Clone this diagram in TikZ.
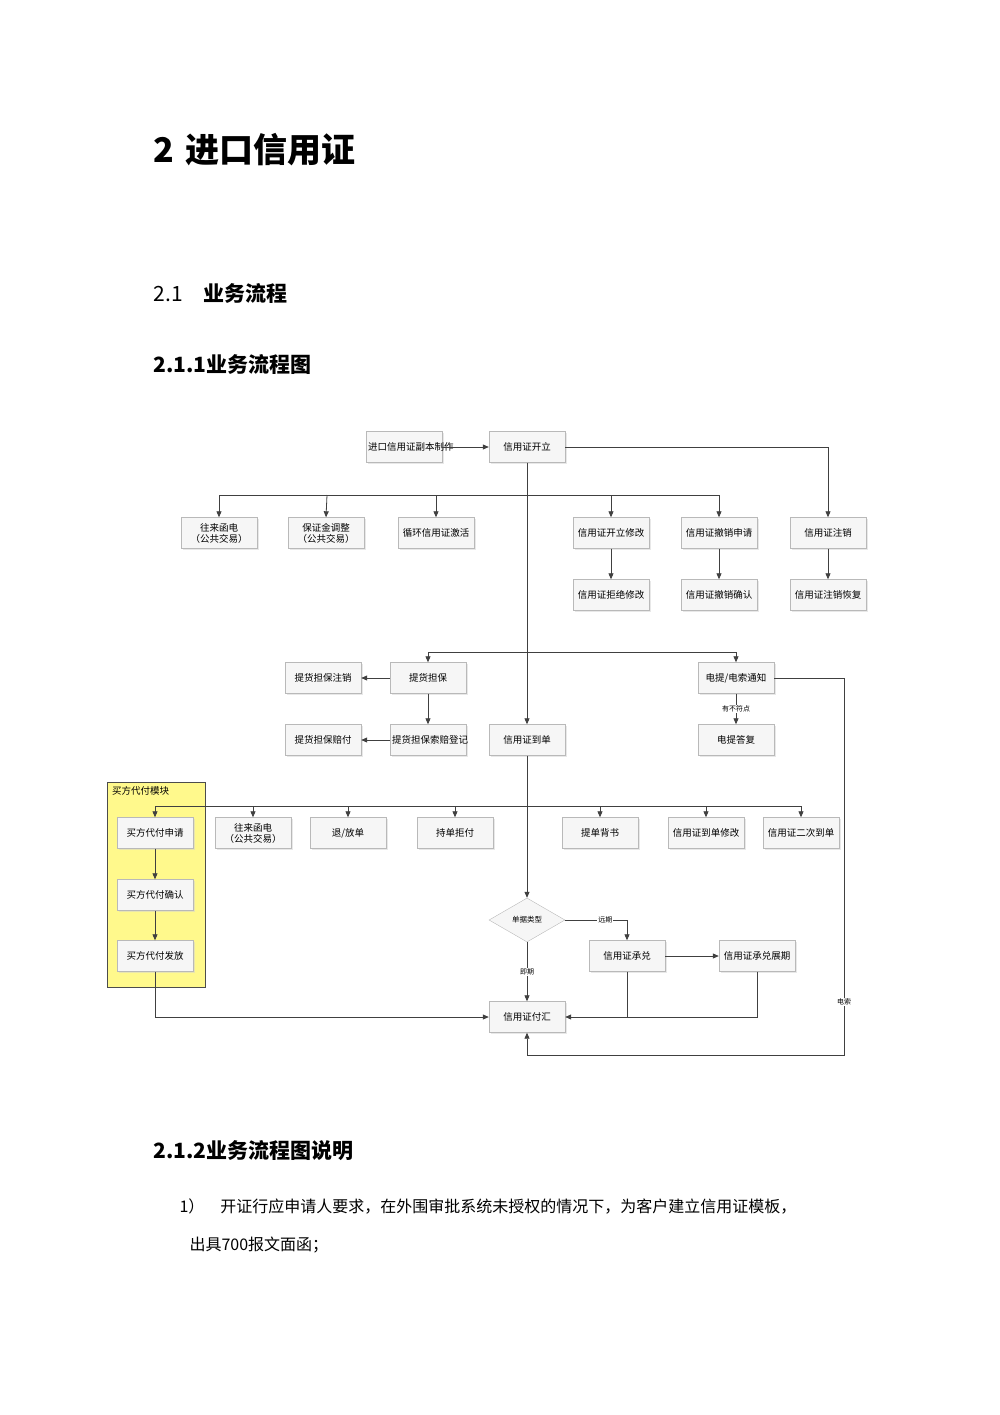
\documentclass[tikz,border=0pt]{standalone}
\usepackage{fontspec}
\setmainfont{Noto Sans CJK SC}
\usetikzlibrary{shapes.geometric,arrows.meta,shadows}
\begin{document}
\begin{tikzpicture}[x=1pt,y=-1pt,
  box/.style={draw=gray!55,fill=gray!7,minimum width=76pt,minimum height=31pt,inner sep=1pt,align=center,font=\fontsize{9.5}{11}\selectfont,text width=72pt,drop shadow={shadow xshift=1.5pt,shadow yshift=-1.5pt,fill=gray!35}},
  ln/.style={draw=black!75,line width=0.8pt},
  ar/.style={ln,-{Triangle[length=6pt,width=5pt]}},
  lab/.style={font=\fontsize{7}{8}\selectfont,fill=white,inner sep=1pt}]
\useasboundingbox (0,0) rectangle (1000,1415);
\node[anchor=west,font=\bfseries\fontsize{34}{40}\selectfont] (h1) at (150,150) {2\,\,进口信用证};
\node[anchor=west,font=\fontsize{21}{26}\selectfont] (h2) at (150,293) {2.1\quad\textbf{业务流程}};
\node[anchor=west,font=\bfseries\fontsize{21}{26}\selectfont] (h3) at (150,364) {2.1.1业务流程图};
\node[anchor=west,font=\bfseries\fontsize{21}{26}\selectfont] (h4) at (150,1151) {2.1.2业务流程图说明};
\node[anchor=west,font=\fontsize{16}{20}\selectfont] (p1) at (176,1206) {1）\quad 开证行应申请人要求，在外围审批系统未授权的情况下，为客户建立信用证模板，};
\node[anchor=west,font=\fontsize{16}{20}\selectfont] (p2) at (186,1245) {出具700报文面函；};
% yellow module
\node[draw=black!70,fill=yellow!45,minimum width=98pt,minimum height=205pt,line width=0.8pt] (mod) at (156,884.5) {};
\node[anchor=north west,font=\fontsize{9.5}{11}\selectfont,inner sep=2pt] (modl) at (110,784) {买方代付模块};
% nodes
\node[box] (fb) at (404,447) {进口信用证副本制作};
\node[box] (kl) at (527,447) {信用证开立};
\node[box] (wl1) at (219,533) {往来函电\\（公共交易）};
\node[box] (bz) at (326,533) {保证金调整\\（公共交易）};
\node[box] (xh) at (436,533) {循环信用证激活};
\node[box] (xg) at (611,533) {信用证开立修改};
\node[box] (cx) at (719,533) {信用证撤销申请};
\node[box] (zx) at (828,533) {信用证注销};
\node[box] (jj) at (611,595) {信用证拒绝修改};
\node[box] (cq) at (719,595) {信用证撤销确认};
\node[box] (hf) at (828,595) {信用证注销恢复};
\node[box] (th) at (428,678) {提货担保};
\node[box] (thzx) at (323,678) {提货担保注销};
\node[box] (dt) at (736,678) {电提/电索通知};
\node[box] (suo) at (428,740) {提货担保索赔登记};
\node[box] (pf) at (323,740) {提货担保赔付};
\node[box] (dd) at (527,740) {信用证到单};
\node[box] (df) at (736,740) {电提答复};
\node[box] (sq) at (155,833) {买方代付申请};
\node[box] (wl2) at (253,833) {往来函电\\（公共交易）};
\node[box] (tf) at (348,833) {退/放单};
\node[box] (cd) at (455,833) {持单拒付};
\node[box] (bs) at (600,833) {提单背书};
\node[box] (ddxg) at (706,833) {信用证到单修改};
\node[box] (ec) at (801,833) {信用证二次到单};
\node[box] (qr) at (155,895) {买方代付确认};
\node[box] (ff) at (155,956) {买方代付发放};
\node[diamond,draw=gray!55,fill=gray!7,minimum width=76pt,minimum height=44pt,aspect=1.7,inner sep=0pt,font=\fontsize{7.5}{9}\selectfont] (lx) at (527,920) {单据类型};
\node[box] (cdui) at (627,956) {信用证承兑};
\node[box] (zq) at (757,956) {信用证承兑展期};
\node[box] (fh) at (527,1017) {信用证付汇};
% connectors
\draw[ar] (fb) -- (kl);
\draw[ln] (kl.south) -- (527,495);
\draw[ar] (527,495) -| (wl1.north);
\draw[ar] (327,495) -- (bz.north);
\draw[ar] (436,495) -- (xh.north);
\draw[ar] (527,495) -| (xg.north);
\draw[ar] (611,495) -| (cx.north);
\draw[ar] (kl.east) -| (zx.north);
\draw[ar] (xg) -- (jj);
\draw[ar] (cx) -- (cq);
\draw[ar] (zx) -- (hf);
\draw[ar] (527,495) -- (dd.north);
\draw[ar] (527,652) -| (th.north);
\draw[ar] (527,652) -| (dt.north);
\draw[ar] (th) -- (thzx);
\draw[ar] (th) -- (suo);
\draw[ar] (suo) -- (pf);
\draw[ar] (dt) -- node[lab]{有不符点} (df);
\draw[ln] (dd.south) -- (527,806);
\draw[ar] (527,806) -| (sq.north);
\draw[ar] (527,806) -| (wl2.north);
\draw[ar] (348,806) -- (tf.north);
\draw[ar] (455,806) -- (cd.north);
\draw[ar] (527,806) -| (bs.north);
\draw[ar] (600,806) -| (ddxg.north);
\draw[ar] (706,806) -| (ec.north);
\draw[ar] (527,806) -- (lx.north);
\draw[ar] (sq) -- (qr);
\draw[ar] (qr) -- (ff);
\draw[ar] (lx.east) -- node[lab,pos=0.65]{远期} (627,920) -- (cdui.north);
\draw[ar] (lx.south) -- node[lab,pos=0.5]{即期} (fh.north);
\draw[ar] (cdui) -- (zq);
\draw[ar] (ff.south) |- (fh.west);
\draw[ar] (zq.south) |- (fh.east);
\draw[ln] (cdui.south) -- (627,1017);
\draw[ar] (dt.east) -- (844,678) -- node[lab,pos=0.86]{电索} (844,1055) -| (fh.south);
\end{tikzpicture}
\end{document}
